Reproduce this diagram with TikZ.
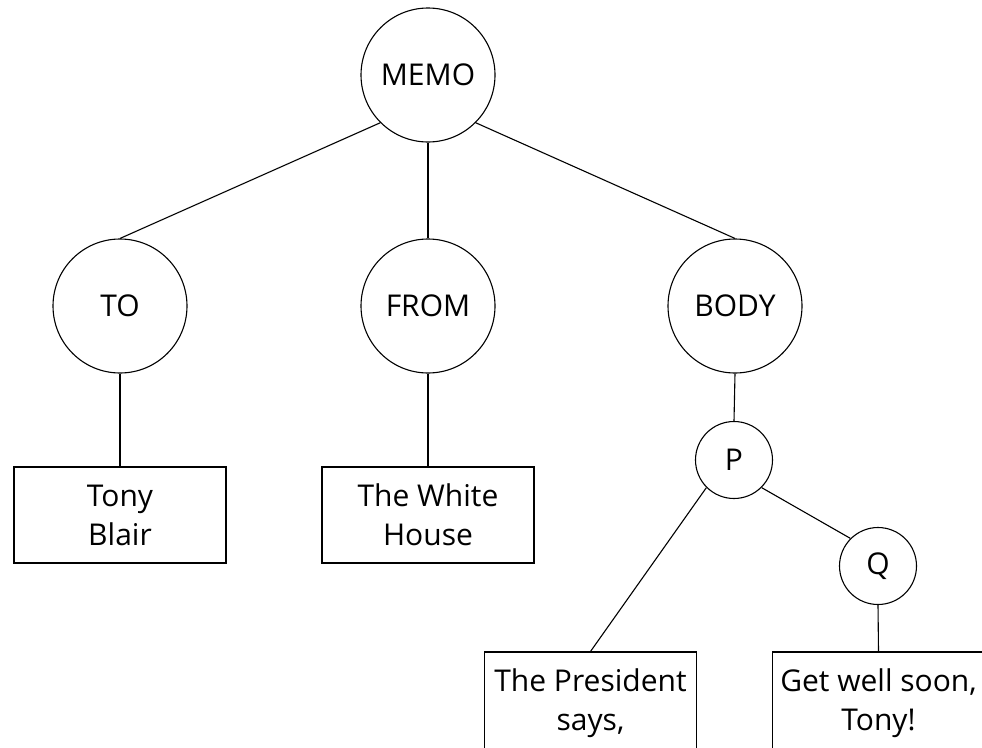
\documentclass[tikz,border=0pt]{standalone}
\usepackage{fontspec}
\setmainfont{Open Sans}

\begin{document}
\begin{tikzpicture}[x=1pt,y=-1pt,
  every node/.style={font=\fontsize{30}{39}\selectfont},
  bignode/.style={draw=black,circle,minimum size=134pt,inner sep=0pt,line width=1.1pt},
  smallnode/.style={draw=black,circle,minimum size=77pt,inner sep=0pt,line width=1.1pt},
  leafbox/.style={draw=black,rectangle,minimum width=212pt,minimum height=96pt,inner sep=0pt,align=center,line width=1.1pt},
  link/.style={draw=black,line width=1.1pt}]
\useasboundingbox (0,0) rectangle (982,747);
\clip (0,0) rectangle (982,747);
\node[bignode] (memo) at (428,75) {MEMO};
\node[bignode] (to) at (120,306) {TO};
\node[bignode] (from) at (428,306) {FROM};
\node[bignode] (body) at (735,306) {BODY};
\node[smallnode] (p) at (734,460) {P};
\node[smallnode] (q) at (878,566) {Q};
\node[leafbox] (tony) at (120,515) {Tony\\Blair};
\node[leafbox] (white) at (428,515) {The White\\House};
\node[leafbox,minimum height=102pt] (pres) at (590.5,703) {The President\\says,};
\node[leafbox,minimum height=102pt] (getwell) at (878.5,703) {Get well soon,\\Tony!};
\draw[link] (memo.south west) -- (to.north);
\draw[link] (memo.south) -- (from.north);
\draw[link] (memo.south east) -- (body.north);
\draw[link] (to.south) -- (tony.north);
\draw[link] (from.south) -- (white.north);
\draw[link] (body.south) -- (p.north);
\draw[link] (p.south west) -- (pres.north);
\draw[link] (p.south east) -- (q.north west);
\draw[link] (q.south) -- (getwell.north);
\end{tikzpicture}
\end{document}
